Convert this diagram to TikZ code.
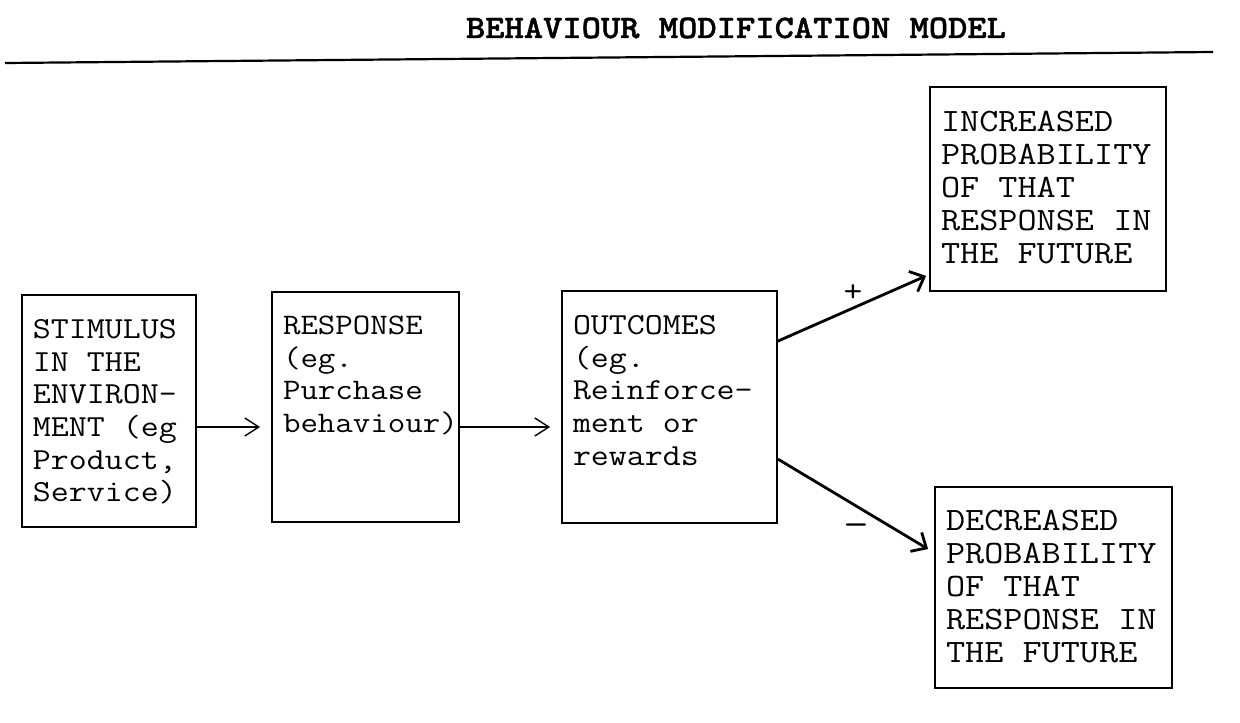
\documentclass[tikz,border=0pt]{standalone}
\usepackage{fontspec}
\setmainfont{Latin Modern Mono}[FakeStretch=1.14]
\newfontfamily\headfont{Latin Modern Mono Light}[FakeStretch=1.12,
  BoldFeatures={FakeBold=1.2}]
\usetikzlibrary{arrows.meta,calc}

% text block inside a fixed-size box, set from the top-left corner
\newcommand{\boxbody}[4]{%
  \parbox[c][#2][t]{#1}{\hfuzz=40pt\vspace*{#3}\leftskip=5.5pt\relax
    \parindent=0pt #4}}

\begin{document}
\begin{tikzpicture}[x=0.5pt,y=-0.5pt,
    box/.style={draw, line width=0.9pt, inner sep=0pt},
    smalltext/.style={font=\fontsize{15.3pt}{16.3pt}\selectfont},
    narrowtext/.style={font=\fontsize{14.9pt}{16.3pt}\selectfont},
    bigtext/.style={font=\fontsize{16.3pt}{16.5pt}\selectfont},
    flow/.style={line width=0.7pt, shorten >=5.5pt,
      -{Straight Barb[length=7pt,width=9pt,line width=0.7pt]}},
    branch/.style={line width=1.4pt,
      -{Straight Barb[length=6pt,width=11pt,line width=1.4pt]}},
    sign/.style={font=\fontsize{16pt}{16pt}\selectfont, inner sep=0pt}]

\useasboundingbox (0,0) rectangle (1240,722);

% heading and rule
\node[font=\headfont\fontsize{16.4pt}{18pt}\selectfont\bfseries, anchor=base]
  (title) at (736,38) {BEHAVIOUR MODIFICATION MODEL};
\coordinate (ruleL) at (5,63);
\coordinate (ruleR) at (1213,52);
\draw[line width=1.1pt] (ruleL) -- (ruleR);

% the five stages
\node[box, smalltext] (stim) at (109,411)
  {\boxbody{87pt}{116pt}{12.3pt}{STIMULUS\\IN THE\\ENVIRON-\\MENT (eg\\Product,\\Service)}};
\node[box, narrowtext] (resp) at (365.5,407)
  {\boxbody{93.5pt}{115pt}{12pt}{RESPONSE\\(eg.\\Purchase\\behaviour)}};
\node[box, smalltext] (outc) at (669.5,407)
  {\boxbody{107.5pt}{116pt}{12.3pt}{OUTCOMES\\(eg.\\Reinforce-\\ment or\\rewards}};
\node[box, bigtext] (incr) at (1048,189)
  {\boxbody{118pt}{102pt}{12pt}{INCREASED\\PROBABILITY\\OF THAT\\RESPONSE IN\\THE FUTURE}};
\node[box, bigtext] (decr) at (1053.5,587.5)
  {\boxbody{118.5pt}{100.5pt}{11.5pt}{DECREASED\\PROBABILITY\\OF THAT\\RESPONSE IN\\THE FUTURE}};

% connectors
\draw[flow] (stim.east |- 0,427) -- (resp.west |- 0,427);
\draw[flow] (resp.east |- 0,427) -- (outc.west |- 0,427);
\draw[branch] ($(outc.north east)+(0,51)$) -- ($(incr.south west)+(-3,-16)$);
\draw[branch] ($(outc.north east)+(0,169)$) -- ($(decr.north west)+(-6,63)$);

% signs on the two branches
\node[sign] (plus) at (853,293) {+};
\node[sign, font=\headfont\fontsize{22pt}{22pt}\selectfont] (minus) at (856,531) {–};

\end{tikzpicture}
\end{document}
